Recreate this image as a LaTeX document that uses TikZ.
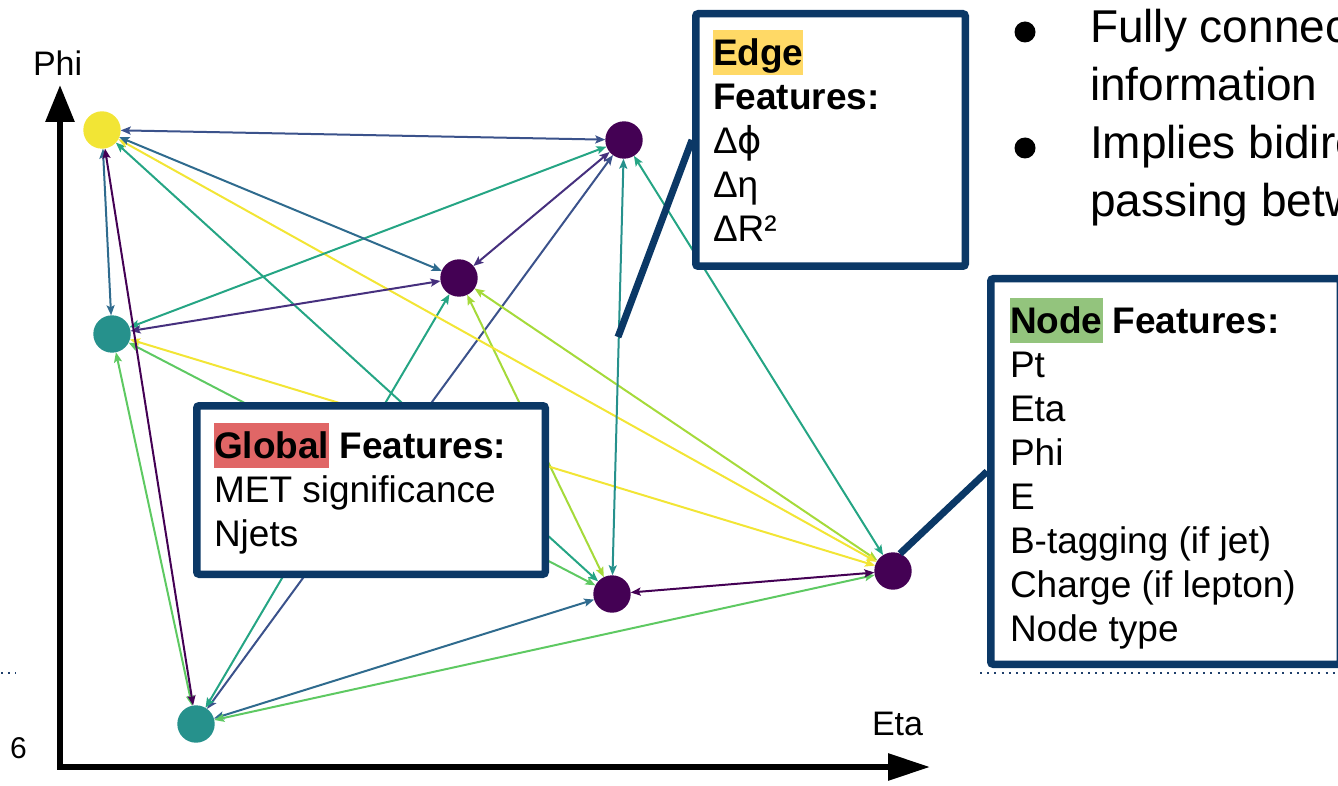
\documentclass[tikz,border=0pt]{standalone}
\usepackage{fontspec}
\setmainfont{Liberation Sans}
\newfontfamily\greekalt{DejaVu Sans}
\usetikzlibrary{arrows.meta,backgrounds}

\definecolor{navy}{HTML}{0B3866}
\definecolor{hlyellow}{HTML}{FFD966}
\definecolor{hlred}{HTML}{E06666}
\definecolor{hlgreen}{HTML}{93C47D}
% viridis shades for vertices and links
\definecolor{v0}{HTML}{440154}
\definecolor{v1}{HTML}{46307E}
\definecolor{v2}{HTML}{3B528B}
\definecolor{v3}{HTML}{2F6B8E}
\definecolor{v4}{HTML}{26918C}
\definecolor{v5}{HTML}{25A584}
\definecolor{v6}{HTML}{5EC962}
\definecolor{v7}{HTML}{A5DA3A}
\definecolor{v8}{HTML}{F2E535}
\definecolor{dotblue}{HTML}{1F3F6B}

\newcommand\hlbox[2]{{\setlength\fboxsep{0pt}\colorbox{#1}{\rule[-9.5pt]{0pt}{45pt}#2}}}

\tikzset{
  vtx/.style={circle, minimum size=37.4pt, inner sep=0pt, outer sep=0pt, fill=#1},
  lk/.style={line width=2pt, draw=#1,
    arrows={Stealth[length=10pt,width=8pt,inset=2pt]-Stealth[length=10pt,width=8pt,inset=2pt]}},
  axis/.style={line width=6pt, black, line join=miter,
    arrows={Triangle[length=37pt,width=28pt]-Triangle[length=42pt,width=26pt]}},
  fbox/.style={draw=navy, line width=7.5pt, fill=white, rounded corners=2.5pt, inner sep=0pt},
  callout/.style={draw=navy, line width=7pt},
  txt/.style={anchor=base west, inner sep=0pt, outer sep=0pt, font=\fontsize{37}{44}\selectfont},
  bigtxt/.style={anchor=base west, inner sep=0pt, outer sep=0pt, font=\fontsize{46}{58}\selectfont},
  axlabel/.style={anchor=base west, inner sep=0pt, outer sep=0pt, font=\fontsize{34}{40}\selectfont},
  dotline/.style={draw=dotblue, line width=2pt, dash pattern=on 2pt off 5.2pt},
  bullet/.style={circle, fill=black, minimum size=21pt, inner sep=0pt}
}

\begin{document}
\begin{tikzpicture}[x=1pt,y=-1pt]
\useasboundingbox (0,0) rectangle (1338,786);
\clip (0,0) rectangle (1338,786);

% graph vertices
\node[vtx=v8] (Y) at (102,130) {};
\node[vtx=v0] (A) at (624,140) {};
\node[vtx=v0] (B) at (459,278) {};
\node[vtx=v4] (C) at (112,334) {};
\node[vtx=v0] (D) at (612,594) {};
\node[vtx=v0] (E) at (893,571) {};
\node[vtx=v4] (F) at (196,724) {};

% fully connected links
\begin{scope}[on background layer]
\draw[lk=v6] (C) -- (D);
\draw[lk=v5] (Y) -- (D);
\draw[lk=v6] (F) -- (C);
\draw[lk=v2] (F) -- (A);
\draw[lk=v5] (F) -- (B);
\draw[lk=v3] (F) -- (D);
\draw[lk=v6] (F) -- (E);
\draw[lk=v7] (B) -- (D);
\draw[lk=v7] (B) -- (E);
\draw[lk=v8] (Y) -- (E);
\draw[lk=v8] (C) -- (E);
\draw[lk=v5] (C) -- (A);
\draw[lk=v1] (C) -- (B);
\draw[lk=v2] (Y) -- (A);
\draw[lk=v3] (Y) -- (B);
\draw[lk=v3] (Y) -- (C);
\draw[lk=v0] (Y) -- (F);
\draw[lk=v1] (B) -- (A);
\draw[lk=v4] (D) -- (A);
\draw[lk=v5] (E) -- (A);
\draw[lk=v0] (E) -- (D);
\end{scope}

% axes
\coordinate (org) at (60,767);
\coordinate (ytip) at (60,85);
\coordinate (xtip) at (930,767);
\draw[axis] (ytip) -- (org) -- (xtip);
\node[axlabel] (philab) at (33,76) {Phi};
\node[axlabel] (etalab) at (872,735) {Eta};
\node[anchor=base west, inner sep=0pt, font=\fontsize{30}{36}\selectfont] (pagenum) at (10,758) {6};

% dotted separators
\coordinate (dl1) at (1,673);
\coordinate (dl2) at (16,673);
\coordinate (dr1) at (980,673);
\coordinate (dr2) at (1338,673);
\draw[dotline] (dl1) -- (dl2);
\draw[dotline] (dr1) -- (dr2);

% feature boxes and their callout lines
\coordinate (ecall) at (618,337);
\node[fbox, minimum width=269.5pt, minimum height=252.5pt] (ebox) at (830.5,140) {};
\node[fbox, minimum width=348.5pt, minimum height=168.5pt] (gbox) at (371,490) {};
\node[fbox, minimum width=349.5pt, minimum height=385.5pt] (nbox) at (1165.5,471.5) {};
\draw[callout] (ecall) -- (ebox.west);
\draw[callout] (E.68) -- (nbox.west);

% edge features
\node[txt] (e1) at (713,66) {\hlbox{hlyellow}{\textbf{Edge}}};
\node[txt] (e2) at (713,110) {\textbf{Features:}};
\node[txt] (e3) at (713,154) {Δ{\greekalt ϕ}};
\node[txt] (e4) at (713,198) {Δη};
\node[txt] (e5) at (713,242) {ΔR²};

% global features
\node[txt] (g1) at (214,458) {\hlbox{hlred}{\textbf{Global}} \textbf{Features:}};
\node[txt] (g2) at (214,502) {MET significance};
\node[txt] (g3) at (214,546) {Njets};

% node features
\node[txt] (n0) at (1010,333) {\hlbox{hlgreen}{\textbf{Node}} \textbf{Features:}};
\foreach \t [count=\i] in {{Pt},{Eta},{Phi},{E},{B-tagging (if jet)},{Charge (if lepton)},{Node type}}
  \node[txt] (n\i) at (1010,{333+44*\i}) {\t};

% bullet points
\node[bullet] (b1) at (1025,32) {};
\node[bullet] (b2) at (1025,148) {};
\node[bigtxt] (t1) at (1090,43) {Fully connected};
\node[bigtxt] (t2) at (1090,101) {information};
\node[bigtxt] (t3) at (1090,159) {Implies bidirectional};
\node[bigtxt] (t4) at (1090,217) {passing between};
\end{tikzpicture}
\end{document}
